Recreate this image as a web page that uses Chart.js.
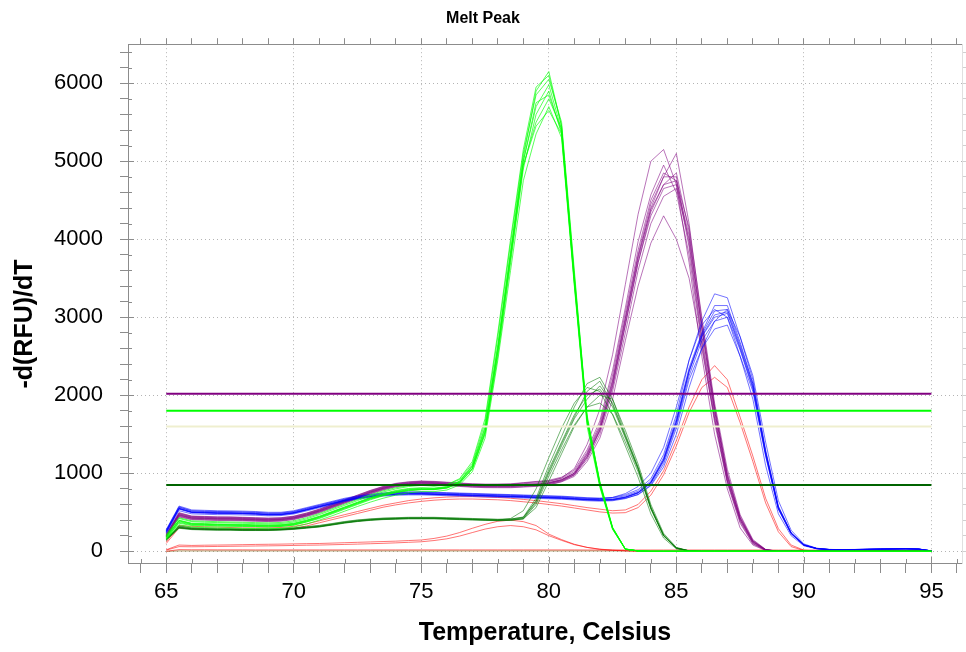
<!DOCTYPE html>
<html>
<head>
<meta charset="utf-8">
<title>Melt Peak</title>
<script src="https://cdn.jsdelivr.net/npm/chart.js@4.4.1/dist/chart.umd.min.js"></script>
<style>
  html, body { margin: 0; padding: 0; background: #fff; }
  #wrap { width: 966px; height: 652px; }
</style>
</head>
<body>
<div id="wrap"><canvas id="melt-chart" width="966" height="652"></canvas></div>
<script>
// Temperatures (Celsius), one reading every 0.5 degree
const temps = [
  65, 65.5, 66, 66.5, 67, 67.5, 68, 68.5, 69, 69.5,
  70, 70.5, 71, 71.5, 72, 72.5, 73, 73.5, 74, 74.5,
  75, 75.5, 76, 76.5, 77, 77.5, 78, 78.5, 79, 79.5,
  80, 80.5, 81, 81.5, 82, 82.5, 83, 83.5, 84, 84.5,
  85, 85.5, 86, 86.5, 87, 87.5, 88, 88.5, 89, 89.5,
  90, 90.5, 91, 91.5, 92, 92.5, 93, 93.5, 94, 94.5, 95
];

// -d(RFU)/dT curves, bright green wells
const greenCurves = [
  [190,400,360,355,350,348,345,340,338,342, 360,400,450,510,570,630,690,740,780,805, 815,810,830,900,1100,1600,2650,3850,5050,5900, 6150,5450,3550,1750,880,300,30,5,0,0, 0,0,0,0,0,0,0,0,0,0, 0,0,0,0,0,0,0,0,0,0,0],
  [160,360,330,325,322,320,318,315,312,318, 335,375,420,480,540,600,660,710,750,775, 790,790,810,870,1050,1500,2500,3700,4900,5600, 5900,5350,3450,1650,850,290,28,5,0,0, 0,0,0,0,0,0,0,0,0,0, 0,0,0,0,0,0,0,0,0,0,0],
  [200,420,380,372,368,365,360,355,352,356, 375,415,470,530,590,650,710,760,800,830, 845,835,850,920,1120,1650,2750,3950,5100,5850, 6050,5500,3600,1700,900,310,30,5,0,0, 0,0,0,0,0,0,0,0,0,0, 0,0,0,0,0,0,0,0,0,0,0],
  [150,340,310,305,300,298,295,292,290,295, 310,350,400,455,515,575,630,680,720,750, 765,765,785,850,1020,1450,2450,3600,4750,5350, 5700,5300,3400,1600,820,280,25,4,0,0, 0,0,0,0,0,0,0,0,0,0, 0,0,0,0,0,0,0,0,0,0,0],
  [180,390,350,345,340,338,335,330,328,332, 350,390,440,500,560,620,680,725,765,790, 800,800,820,890,1080,1550,2600,3800,5000,5700, 5980,5400,3500,1720,870,300,28,5,0,0, 0,0,0,0,0,0,0,0,0,0, 0,0,0,0,0,0,0,0,0,0,0],
  [170,380,345,340,336,333,330,326,323,328, 345,385,435,495,555,615,675,720,760,785, 795,795,815,880,1060,1520,2550,3750,4950,5500, 5800,5420,3480,1680,860,295,27,5,0,0, 0,0,0,0,0,0,0,0,0,0, 0,0,0,0,0,0,0,0,0,0,0],
  [210,430,390,385,380,376,372,368,365,370, 390,430,485,545,605,665,725,775,815,840, 850,840,855,930,1150,1700,2800,4000,5150,5950, 6100,5450,3520,1700,880,300,30,5,0,0, 0,0,0,0,0,0,0,0,0,0, 0,0,0,0,0,0,0,0,0,0,0],
  [185,395,355,350,345,342,340,336,333,337, 355,395,445,505,565,625,685,735,772,798, 808,805,825,895,1090,1580,2620,3820,5000,5750, 5850,5380,3460,1690,860,295,28,5,0,0, 0,0,0,0,0,0,0,0,0,0, 0,0,0,0,0,0,0,0,0,0,0],
  [165,370,338,333,328,325,322,318,315,320, 338,378,428,488,548,608,668,715,755,780, 792,792,812,878,1060,1530,2560,3760,4950,5450, 5650,5350,3420,1660,840,285,26,4,0,0, 0,0,0,0,0,0,0,0,0,0, 0,0,0,0,0,0,0,0,0,0,0]
];

// purple wells
const purpleCurves = [
  [215,490,448,443,438,437,432,427,422,427, 447,487,537,597,657,717,777,827,867,887, 897,892,882,872,862,857,857,860,875,890, 900,940,1060,1370,1820,2520,3420,4320,5000,5150, 4700,3700,2500,1500,800,300,80,10,0,0, 0,0,0,0,0,0,0,0,0,0,0],
  [200,470,430,425,420,420,415,410,405,410, 430,470,520,580,640,700,760,810,850,870, 880,875,865,855,845,840,840,840,850,860, 880,920,1000,1250,1600,2200,3000,3800,4450,4800, 5100,4200,2950,1850,980,430,130,20,0,0, 0,0,0,0,0,0,0,0,0,0,0],
  [190,455,418,413,408,407,402,397,393,398, 418,458,508,568,628,688,748,798,838,858, 868,863,853,843,833,828,828,828,838,848, 866,905,985,1200,1550,2100,2900,3700,4350,4700, 4850,4100,2850,1800,950,420,120,18,0,0, 0,0,0,0,0,0,0,0,0,0,0],
  [205,478,437,432,427,426,421,416,411,416, 436,476,526,586,646,706,766,816,856,876, 886,881,871,861,851,846,846,847,858,868, 880,918,998,1220,1560,2150,2950,3750,4400,4800, 4800,3950,2750,1750,920,400,110,15,0,0, 0,0,0,0,0,0,0,0,0,0,0],
  [180,440,405,400,395,394,390,385,381,386, 406,446,496,556,616,676,736,786,826,846, 856,851,841,831,821,816,815,815,823,832, 850,890,960,1150,1450,1950,2700,3400,3950,4300, 4000,3500,2600,1700,900,400,120,18,0,0, 0,0,0,0,0,0,0,0,0,0,0],
  [210,482,441,436,431,430,425,420,415,420, 440,480,530,590,650,710,770,820,860,880, 890,885,875,865,855,850,851,853,866,878, 895,935,1020,1270,1630,2260,3060,3860,4500,4850, 4750,3900,2700,1700,900,380,100,15,0,0, 0,0,0,0,0,0,0,0,0,0,0],
  [195,462,424,419,414,413,408,403,399,404, 424,464,514,574,634,694,754,804,844,864, 874,869,859,849,839,834,834,834,843,852, 868,906,982,1210,1540,2120,2900,3700,4300,4650, 4700,4050,2900,1850,1000,450,140,22,0,0, 0,0,0,0,0,0,0,0,0,0,0],
  [198,466,427,422,417,416,411,406,402,407, 427,467,517,577,637,697,757,807,847,867, 877,872,862,852,842,837,837,837,846,856, 874,914,1000,1240,1580,2180,2980,3780,4380,4700, 4750,4150,3000,1900,1050,470,150,25,0,0, 0,0,0,0,0,0,0,0,0,0,0],
  [220,495,452,447,442,441,436,431,426,431, 451,491,541,601,661,721,781,831,871,891, 901,896,886,876,866,861,862,865,880,895, 910,950,1040,1300,1670,2320,3120,3970,4570,4950, 4600,3800,2650,1650,870,360,95,12,0,0, 0,0,0,0,0,0,0,0,0,0,0],
  [185,448,411,406,401,400,396,391,387,392, 412,452,502,562,622,682,742,792,832,852, 862,857,847,837,827,822,821,821,829,838, 855,895,975,1180,1500,2050,2800,3600,4200,4550, 4650,4000,2850,1800,960,430,130,20,0,0, 0,0,0,0,0,0,0,0,0,0,0]
];

// blue wells
const blueCurves = [
  [280,580,530,525,520,518,515,510,500,500, 520,560,600,640,680,710,730,748,758,762, 762,757,752,747,742,737,732,727,722,717, 712,707,697,687,682,690,725,790,930,1240, 1750,2450,2950,3300,3250,2750,2200,1300,580,240, 85,38,24,22,24,27,30,33,35,30,6],
  [250,550,500,495,490,490,485,480,470,472, 492,532,572,612,652,682,702,722,732,737, 737,732,727,722,717,712,707,702,697,692, 687,682,672,662,657,662,692,750,880,1170, 1650,2300,2750,3000,3050,2600,2100,1250,550,230, 80,35,22,20,22,25,28,30,32,28,5],
  [240,540,495,490,485,484,480,475,466,468, 488,528,568,608,648,678,698,718,728,733, 733,728,723,718,713,708,703,698,693,688, 683,678,668,658,653,658,688,745,870,1150, 1620,2250,2700,2950,3000,2580,2080,1230,540,225, 78,34,21,19,21,24,27,29,31,27,5],
  [270,565,515,510,505,503,500,495,485,486, 506,546,586,626,666,696,716,736,746,751, 751,746,741,736,731,726,721,716,711,706, 700,694,684,676,675,690,740,830,1000,1330, 1850,2450,2900,3100,3000,2500,1950,1100,480,200, 70,32,20,19,21,24,27,29,31,27,5],
  [230,520,480,475,470,470,466,462,455,458, 478,518,558,598,638,668,688,708,718,723, 723,718,713,708,703,698,693,688,683,678, 673,668,658,648,643,648,675,730,850,1120, 1580,2200,2600,2850,2900,2500,2050,1220,540,225, 78,34,21,19,21,24,27,29,31,27,5],
  [260,555,505,500,495,494,490,485,475,477, 497,537,577,617,657,687,707,727,737,742, 742,737,732,727,722,717,712,707,702,697, 692,687,677,667,662,667,697,755,885,1175, 1670,2320,2780,3080,3100,2650,2150,1280,570,235, 82,36,23,21,23,26,29,31,33,29,5],
  [245,545,498,493,488,487,483,478,468,470, 490,530,570,610,650,680,700,720,730,735, 735,730,725,720,715,710,705,700,695,690, 685,680,670,660,655,657,680,725,840,1080, 1500,2100,2600,2950,3100,2750,2250,1400,650,270, 95,40,24,21,23,26,29,31,33,29,5],
  [255,548,502,497,492,491,487,482,472,474, 494,534,574,614,654,684,704,724,734,739, 739,734,729,724,719,714,709,704,699,694, 689,684,674,664,659,664,694,752,882,1172, 1660,2310,2760,3030,3070,2620,2120,1260,560,232, 81,36,22,20,22,25,28,30,32,28,5],
  [265,570,520,515,510,508,505,500,490,491, 511,551,591,631,671,701,721,741,751,756, 756,751,746,741,736,731,726,721,716,711, 706,701,691,681,676,681,711,770,900,1200, 1700,2350,2800,3150,3150,2680,2150,1270,560,235, 82,36,23,21,23,26,29,31,33,29,5]
];

// dark green wells
const darkGreenCurves = [
  [150,310,290,285,280,280,275,275,275,280, 290,305,320,345,370,390,405,415,420,425, 425,425,420,415,410,405,400,405,430,650, 1050,1400,1750,2000,2080,1850,1450,1050,550,200, 40,5,0,0,0,0,0,0,0,0, 0,0,0,0,0,0,0,0,0,0,0],
  [160,320,298,292,288,287,283,282,282,287, 297,312,328,352,378,398,412,422,427,432, 432,432,427,422,417,412,407,412,440,680, 1100,1470,1850,2150,2230,1950,1500,1080,570,210, 45,6,0,0,0,0,0,0,0,0, 0,0,0,0,0,0,0,0,0,0,0],
  [140,295,278,273,270,270,266,266,266,271, 281,296,311,336,361,381,396,406,411,416, 416,416,411,406,401,396,392,396,415,600, 960,1300,1620,1850,1900,1760,1400,1020,540,195, 40,5,0,0,0,0,0,0,0,0, 0,0,0,0,0,0,0,0,0,0,0],
  [155,305,286,281,277,277,273,273,273,278, 288,303,318,343,368,388,403,413,418,423, 423,423,418,413,408,403,400,420,520,800, 1200,1580,1900,2100,2050,1750,1350,950,480,170, 30,4,0,0,0,0,0,0,0,0, 0,0,0,0,0,0,0,0,0,0,0],
  [145,300,282,277,273,273,269,269,269,274, 284,299,314,339,364,384,399,409,414,419, 419,419,414,409,404,399,395,398,420,620, 1000,1350,1700,1950,2120,1900,1480,1070,560,205, 42,5,0,0,0,0,0,0,0,0, 0,0,0,0,0,0,0,0,0,0,0],
  [165,325,302,296,292,291,287,286,286,291, 301,316,332,356,382,402,416,426,431,436, 436,436,431,426,421,416,411,414,435,640, 1020,1380,1720,2050,2180,1880,1470,1060,555,205, 42,5,0,0,0,0,0,0,0,0, 0,0,0,0,0,0,0,0,0,0,0],
  [150,308,288,283,279,278,274,274,274,279, 289,304,319,344,369,389,404,414,419,424, 424,424,419,414,409,404,399,402,415,560, 900,1250,1600,1850,2000,1950,1550,1120,600,230, 50,6,0,0,0,0,0,0,0,0, 0,0,0,0,0,0,0,0,0,0,0]
];

// red wells
const redCurves = [
  [120,330,320,315,310,305,300,300,300,305, 320,350,390,430,470,510,550,590,620,650, 670,685,695,700,700,695,690,680,665,650, 630,610,585,560,540,520,530,600,770,1030, 1420,1850,2200,2380,2200,1720,1220,680,290,80, 15,3,0,0,0,0,0,0,0,0,0],
  [100,300,290,285,282,280,278,276,276,280, 295,325,365,405,445,485,525,565,595,620, 640,655,665,670,670,665,660,650,635,620, 600,580,555,530,505,490,495,560,720,980, 1350,1780,2100,2230,2100,1650,1150,620,250,60, 10,2,0,0,0,0,0,0,0,0,0],
  [20,80,75,78,80,82,85,88,90,92, 95,98,100,105,110,115,120,125,130,138, 145,165,195,240,295,345,385,400,380,330, 220,150,90,50,25,12,5,2,0,0, 0,0,0,0,0,0,0,0,0,0, 0,0,0,0,0,0,0,0,0,0,0],
  [15,60,58,60,62,64,66,68,70,72, 75,78,80,84,88,92,97,102,108,115, 122,138,160,195,240,285,315,330,315,275, 200,140,85,50,28,15,8,3,0,0, 0,0,0,0,0,0,0,0,0,0, 0,0,0,0,0,0,0,0,0,0,0],
  [0,22,20,20,19,19,19,18,18,18, 18,18,18,18,18,18,18,18,18,18, 18,18,18,18,18,18,18,18,18,18, 18,18,18,17,17,17,17,17,17,17, 17,17,17,17,17,17,17,17,16,16, 16,16,16,16,15,15,15,15,14,14,8]
];

// no-template well, flat along zero
const flatCurves = [
  [0,5,5,5,5,5,5,5,5,5, 5,5,5,5,5,5,5,5,5,5, 5,5,5,5,5,5,5,5,5,5, 5,5,5,5,5,5,5,5,5,5, 5,5,5,5,5,5,5,5,5,5, 5,5,5,5,5,5,5,5,5,5,3]
];

// peak thresholds (purple, green, pale, dark green)
const thresholdValues = [2020, 1800, 1600, 850];
const thresholdFrom = 65;
const thresholdTo = 95;

// axis ticks
const xMajorTicks = [65, 70, 75, 80, 85, 90, 95];
const yMajorTicks = [0, 1000, 2000, 3000, 4000, 5000, 6000];
const yTitle = '-d(RFU)/dT';

const FONT = "'Liberation Sans', Arial, sans-serif";

function minorTicks(from, to, step) {
    const out = [];
    for (let v = from; v <= to + 1e-9; v += step) out.push({ value: v });
    return out;
}

function curveDataset(values, color) {
    return {
        data: temps.map((t, i) => ({ x: t, y: values[i] })),
        borderColor: color,
        borderWidth: 1,
        pointRadius: 0,
        fill: false,
        tension: 0
    };
}

const thresholdColors = ['#800080', '#00ff00', '#efefcf', '#006400'];

let datasets = [];
thresholdValues.forEach((v, i) => {
    datasets.push({
        data: [{ x: thresholdFrom, y: v }, { x: thresholdTo, y: v }],
        borderColor: thresholdColors[i],
        borderWidth: 2,
        pointRadius: 0,
        fill: false
    });
});
greenCurves.forEach(c => datasets.push(curveDataset(c, 'rgba(0,255,0,0.65)')));
darkGreenCurves.forEach(c => datasets.push(curveDataset(c, 'rgba(0,120,0,0.55)')));
blueCurves.forEach(c => datasets.push(curveDataset(c, 'rgba(0,0,255,0.55)')));
purpleCurves.forEach(c => datasets.push(curveDataset(c, 'rgba(128,0,128,0.55)')));
redCurves.forEach(c => datasets.push(curveDataset(c, 'rgba(255,0,0,0.55)')));
flatCurves.forEach(c => datasets.push(curveDataset(c, 'rgba(110,90,0,0.6)')));

const gridColor = '#b4b4b4';
const axisColor = '#8c8c8c';

// inner half of the tick marks (they cross the axis line) and the y axis title
const axisExtras = {
    id: 'axisExtras',
    afterDraw(chart) {
        const { ctx, chartArea } = chart;
        const xs = chart.scales.x, ys = chart.scales.y;
        ctx.save();
        ctx.strokeStyle = axisColor;
        ctx.lineWidth = 1;
        ctx.beginPath();
        xs.ticks.forEach(t => {
            const px = Math.round(xs.getPixelForValue(t.value)) + 0.5;
            const len = xMajorTicks.includes(t.value) ? 6 : 4;
            ctx.moveTo(px, chartArea.bottom);
            ctx.lineTo(px, chartArea.bottom - len);
        });
        ys.ticks.forEach(t => {
            const py = Math.round(ys.getPixelForValue(t.value)) + 0.5;
            const len = yMajorTicks.includes(t.value) ? 6 : 4;
            ctx.moveTo(chartArea.left, py);
            ctx.lineTo(chartArea.left + len, py);
        });
        ctx.stroke();

        ctx.translate(25, 324);
        ctx.rotate(-Math.PI / 2);
        ctx.fillStyle = '#000';
        ctx.font = 'bold 25px ' + FONT;
        ctx.textAlign = 'center';
        ctx.textBaseline = 'middle';
        ctx.fillText(yTitle, 0, 0);
        ctx.restore();
    }
};

const ctx = document.getElementById('melt-chart').getContext('2d');
new Chart(ctx, {
    type: 'line',
    data: { datasets: datasets },
    plugins: [axisExtras],
    options: {
        responsive: false,
        animation: false,
        layout: { padding: 0 },
        plugins: {
            legend: { display: false },
            tooltip: { enabled: false },
            title: {
                display: true,
                text: 'Melt Peak',
                color: '#000',
                font: { family: FONT, size: 16, weight: 'bold' },
                padding: { top: 9, bottom: 8 }
            }
        },
        scales: {
            x: {
                type: 'linear',
                position: 'bottom',
                min: 63.5,
                max: 96.2,
                afterBuildTicks: s => { s.ticks = minorTicks(64, 96, 1); },
                afterFit: s => { s.height = 89; },
                ticks: {
                    autoSkip: false,
                    maxRotation: 0,
                    padding: 6,
                    color: '#000',
                    font: { family: FONT, size: 22 },
                    callback: v => xMajorTicks.includes(v) ? String(v) : ''
                },
                grid: {
                    color: c => (c.tick && xMajorTicks.includes(c.tick.value)) ? gridColor : 'rgba(0,0,0,0)',
                    tickColor: axisColor,
                    tickLength: 10,
                    lineWidth: 1
                },
                border: { color: axisColor, width: 1, dash: [1, 3] },
                title: {
                    display: true,
                    text: 'Temperature, Celsius',
                    color: '#000',
                    font: { family: FONT, size: 25, weight: 'bold' },
                    padding: { top: 0, bottom: 4 }
                }
            },
            xTop: {
                type: 'linear',
                position: 'top',
                min: 63.5,
                max: 96.2,
                afterBuildTicks: s => { s.ticks = minorTicks(64, 96, 1); },
                afterFit: s => { s.height = 8; },
                ticks: { display: false },
                grid: { drawOnChartArea: false, tickColor: axisColor, tickLength: 6 },
                border: { color: axisColor, width: 1 }
            },
            y: {
                type: 'linear',
                position: 'left',
                min: -150,
                max: 6500,
                afterBuildTicks: s => { s.ticks = minorTicks(0, 6400, 200); },
                afterFit: s => { s.width = 128; },
                ticks: {
                    autoSkip: false,
                    padding: 17,
                    color: '#000',
                    font: { family: FONT, size: 22 },
                    callback: v => yMajorTicks.includes(v) ? String(v) : ''
                },
                grid: {
                    color: c => (c.tick && yMajorTicks.includes(c.tick.value)) ? gridColor : 'rgba(0,0,0,0)',
                    tickColor: axisColor,
                    tickLength: 8,
                    lineWidth: 1
                },
                border: { color: axisColor, width: 1, dash: [1, 3] },
                title: { display: false }
            },
            yRight: {
                type: 'linear',
                position: 'right',
                min: -150,
                max: 6500,
                afterBuildTicks: s => { s.ticks = minorTicks(0, 6400, 200); },
                afterFit: s => { s.width = 4; },
                ticks: { display: false },
                grid: { drawOnChartArea: false, tickColor: '#d0d0d0', tickLength: 4 },
                border: { color: '#e0e0e0', width: 1 }
            }
        }
    }
});
</script>
</body>
</html>
